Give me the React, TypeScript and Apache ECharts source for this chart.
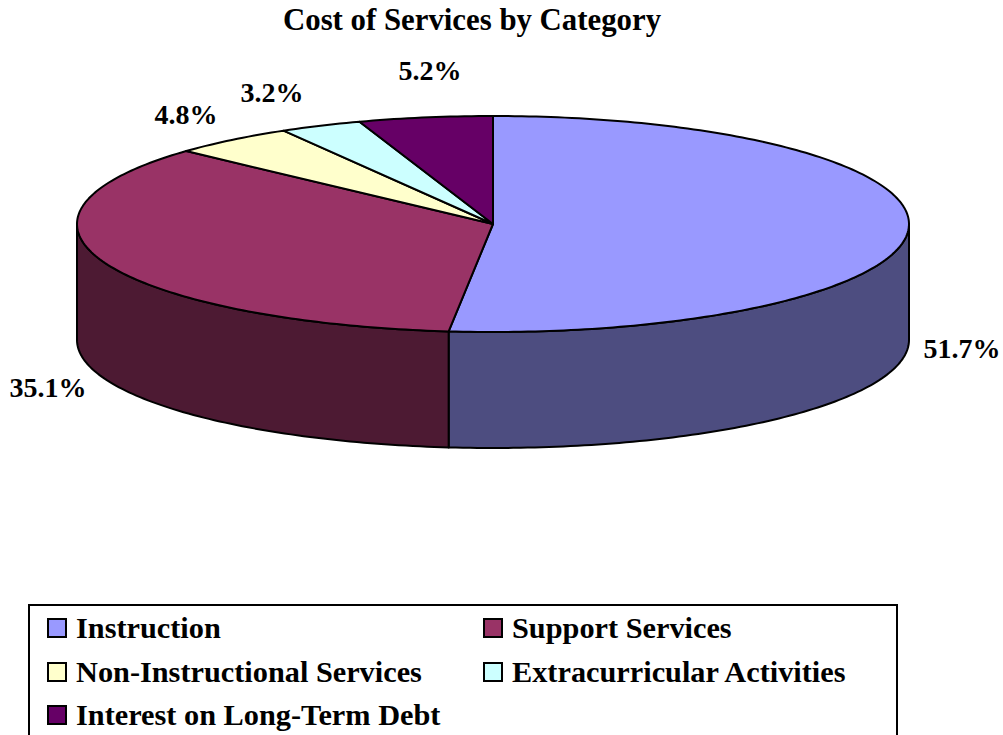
import React, { useEffect, useRef } from "react";
import * as echarts from "echarts";

const categories = [
  "Instruction",
  "Support Services",
  "Non-Instructional Services",
  "Extracurricular Activities",
  "Interest on Long-Term Debt",
];
const shares = [51.7, 35.1, 4.8, 3.2, 5.2];
const topColors = ["#9999FF", "#993366", "#FFFFCC", "#CCFFFF", "#660066"];
const sideColors = ["#4D4D80", "#4D1A33", "#808066", "#668080", "#330033"];
const titleText = "Cost of Services by Category";

const FONT = '"Liberation Serif", "Times New Roman", serif';
const CX = 493;
const CY = 224;
const RX = 416;
const RY = 108;
const DEPTH = 116;
const labelCenters = [
  [962, 348],
  [48, 387],
  [186, 114],
  [272, 92],
  [430, 70],
];
const legendCells = [
  [47, 613],
  [483, 613],
  [47, 657],
  [483, 657],
  [47, 700],
];

const total = shares.reduce((a, b) => a + b, 0);
const ptAt = (deg: number, dy = 0): number[] => {
  const r = (deg * Math.PI) / 180;
  return [CX + RX * Math.sin(r), CY - RY * Math.cos(r) + dy];
};
const arcPoints = (a: number, b: number, dy = 0): number[][] => {
  const pts: number[][] = [];
  const n = Math.max(2, Math.ceil(Math.abs(b - a)));
  for (let i = 0; i <= n; i++) pts.push(ptAt(a + ((b - a) * i) / n, dy));
  return pts;
};

function makeRenderItem(index: number) {
  return (_params: any, api: any) => {
    const value = api.value(0) as number;
    const before = shares.slice(0, index).reduce((a, b) => a + b, 0);
    const start = (before / total) * 360;
    const end = ((before + value) / total) * 360;
    const stroke = { stroke: "#000", lineWidth: 2, lineJoin: "round" };
    const children: any[] = [];
    const s0 = Math.max(start, 90);
    const s1 = Math.min(end, 270);
    if (s1 > s0) {
      children.push({
        type: "polygon",
        shape: {
          points: [...arcPoints(s0, s1), ...arcPoints(s1, s0, DEPTH)],
        },
        style: { fill: sideColors[index], ...stroke },
      });
    }
    children.push({
      type: "polygon",
      shape: { points: [[CX, CY], ...arcPoints(start, end)] },
      style: { fill: topColors[index], ...stroke },
    });
    children.push({
      type: "text",
      x: labelCenters[index][0],
      y: labelCenters[index][1],
      style: {
        text: `${value.toFixed(1)}%`,
        font: `bold 28px ${FONT}`,
        fill: "#000",
        align: "center",
        verticalAlign: "middle",
      },
    });
    return { type: "group", children };
  };
}

export default function App() {
  const ref = useRef<HTMLDivElement>(null);
  useEffect(() => {
    const chart = echarts.init(ref.current!, null, { renderer: "svg" });
    chart.setOption({
      animation: false,
      backgroundColor: "#fff",
      title: {
        text: titleText,
        left: 283,
        top: 4,
        padding: 0,
        textStyle: { fontFamily: FONT, fontWeight: "bold", fontSize: 30.8, color: "#000" },
      },
      legend: categories.map((name, i) => ({
        data: [name],
        left: legendCells[i][0],
        top: legendCells[i][1],
        padding: 0,
        itemWidth: 18,
        itemHeight: 18,
        icon: "rect",
        selectedMode: false,
        itemStyle: { color: topColors[i], borderColor: "#000", borderWidth: 2 },
        textStyle: {
          fontFamily: FONT,
          fontWeight: "bold",
          fontSize: 30.3,
          color: "#000",
          padding: [0, 0, 0, 5],
        },
      })),
      graphic: [
        {
          type: "rect",
          z: -1,
          shape: { x: 29, y: 605, width: 868, height: 160 },
          style: { fill: "#fff", stroke: "#000", lineWidth: 2 },
        },
      ],
      series: categories.map((name, i) => ({
        type: "custom",
        name,
        coordinateSystem: "none",
        silent: true,
        itemStyle: { color: topColors[i] },
        data: [[shares[i]]],
        renderItem: makeRenderItem(i),
      })),
    });
    return () => chart.dispose();
  }, []);
  return (
    <div
      ref={ref}
      style={{ position: "absolute", left: 0, top: 0, width: 1003, height: 735, overflow: "hidden" }}
    />
  );
}
